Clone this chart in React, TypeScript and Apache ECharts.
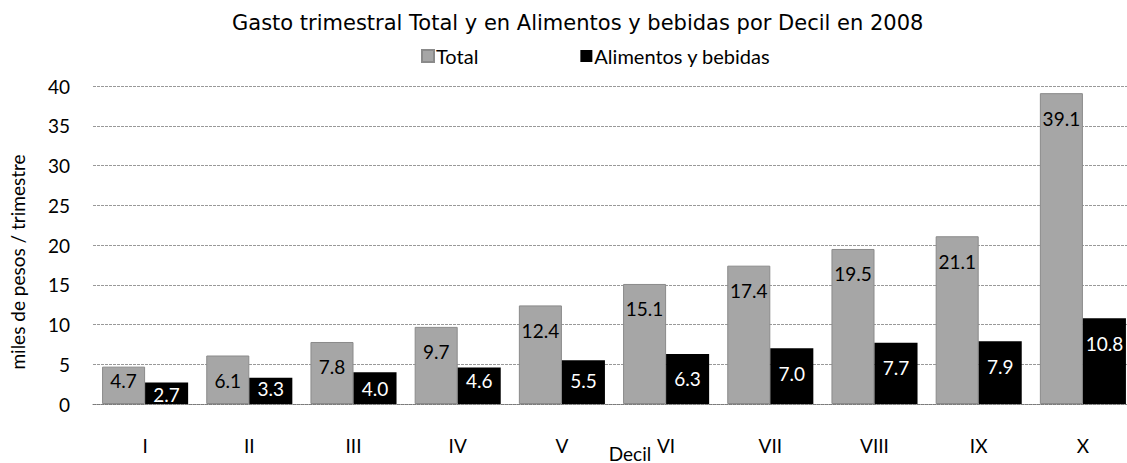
import React, { useEffect, useRef } from "react";
import * as echarts from "echarts";

const categories = ["I", "II", "III", "IV", "V", "VI", "VII", "VIII", "IX", "X"];
const totalValues = [4.7, 6.1, 7.8, 9.7, 12.4, 15.1, 17.4, 19.5, 21.1, 39.1];
const foodValues = [2.7, 3.3, 4.0, 4.6, 5.5, 6.3, 7.0, 7.7, 7.9, 10.8];
const seriesNames = ["Total", "Alimentos y bebidas"];
const titleText = "Gasto trimestral Total y en Alimentos y bebidas por Decil en 2008";
const yAxisName = "miles de pesos / trimestre";
const xAxisName = "Decil";

const FONT = "Lato, 'Open Sans', sans-serif";

function labelFor(v: number) {
  if (v >= 6) return { position: "insideTop", distance: 16 };
  if (v >= 4.5) return { position: "insideBottom", distance: 15 };
  if (v >= 3) return { position: "insideBottom", distance: 7 };
  return { position: "insideBottom", distance: 1 };
}

export default function App() {
  const ref = useRef<HTMLDivElement>(null);
  useEffect(() => {
    document.body.style.margin = "0";
    if (!ref.current) return;
    const chart = echarts.init(ref.current, undefined, { renderer: "svg" });
    const labelBase = {
      show: true,
      fontFamily: FONT,
      fontSize: 19,
      lineHeight: 18,
      formatter: (p: any) => Number(p.value).toFixed(1),
    };
    chart.setOption({
      animation: false,
      backgroundColor: "#ffffff",
      title: {
        text: titleText,
        left: 227,
        top: 7,
        textStyle: { fontFamily: "'DejaVu Sans', sans-serif", fontSize: 21, fontWeight: "normal", color: "#000" },
      },
      legend: {
        left: 416,
        top: 41,
        icon: "rect",
        itemWidth: 12,
        itemHeight: 12,
        itemGap: 102,
        textStyle: { fontFamily: FONT, fontSize: 20, color: "#000", padding: [0, 0, 0, -3] },
        data: seriesNames,
      },
      grid: { left: 93, right: -8, top: 86, bottom: 59, containLabel: false, outerBoundsMode: "none" },
      xAxis: {
        type: "category",
        data: categories,
        name: xAxisName,
        nameLocation: "middle",
        nameGap: 41,
        nameMoveOverlap: false,
        nameTextStyle: { fontFamily: FONT, fontSize: 19, lineHeight: 16, color: "#000", padding: [0, 0, 0, 32] },
        axisLine: { show: true, lineStyle: { color: "#777", type: "dotted", width: 1 } },
        axisTick: { show: false },
        axisLabel: { margin: 32, fontFamily: FONT, fontSize: 19, color: "#000" },
      },
      yAxis: {
        type: "value",
        min: 0,
        max: 40,
        interval: 5,
        name: yAxisName,
        nameLocation: "middle",
        nameGap: 66,
        nameMoveOverlap: false,
        nameTextStyle: { fontFamily: FONT, fontSize: 19, color: "#000", padding: [0, 34, 0, 0] },
        axisLine: { show: false },
        axisTick: { show: false },
        axisLabel: { margin: 23, fontFamily: FONT, fontSize: 19, color: "#000" },
        splitLine: { lineStyle: { color: "#999", type: [3, 1], width: 1 } },
      },
      series: [
        {
          name: seriesNames[0],
          type: "bar",
          barWidth: "41.3%",
          barGap: "0%",
          itemStyle: { color: "#a6a6a6", borderColor: "#8a8a8a", borderWidth: 1 },
          label: { ...labelBase, color: "#000" },
          data: totalValues.map((v) => ({ value: v, label: labelFor(v) })),
        },
        {
          name: seriesNames[1],
          type: "bar",
          barWidth: "41.3%",
          barGap: "0%",
          itemStyle: { color: "#000000" },
          label: { ...labelBase, color: "#fff" },
          data: foodValues.map((v) => ({ value: v, label: labelFor(v) })),
        },
      ],
    });
    return () => chart.dispose();
  }, []);
  return <div ref={ref} style={{ width: 1127, height: 463 }} />;
}
